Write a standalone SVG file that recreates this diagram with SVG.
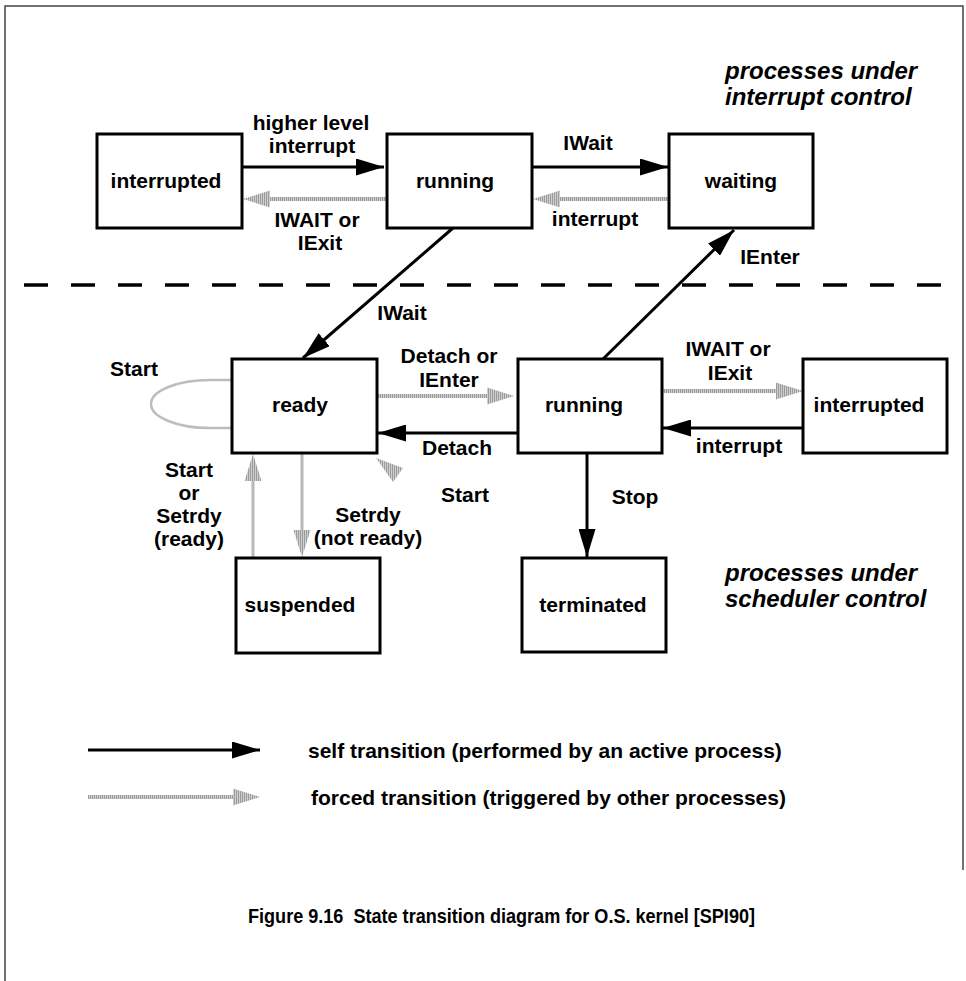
<svg xmlns="http://www.w3.org/2000/svg" width="966" height="981" viewBox="0 0 966 981">
<style>
text{font-family:"Liberation Sans",Arial,Helvetica,sans-serif;font-weight:bold;font-size:21px;fill:#000}
.c{text-anchor:middle}
.it{font-style:italic;font-size:24px}
.box{fill:#fff;stroke:#000;stroke-width:3}
.self{stroke:#000;stroke-width:3;fill:none}
.forced{stroke:url(#hatch);stroke-width:4;fill:none}
.fv{stroke:#b8b8b8;stroke-width:3;fill:none}
.head{fill:url(#hatch)}
</style>
<defs>
<pattern id="hatch" patternUnits="userSpaceOnUse" width="2" height="4">
<rect width="2" height="4" fill="#d0d0d0"/>
<rect width="1" height="4" fill="#9a9a9a"/>
</pattern>
<marker id="ah" markerUnits="userSpaceOnUse" markerWidth="28" markerHeight="17" refX="28" refY="8.5" orient="auto">
<path d="M0,0 L28,8.5 L0,17 z" fill="#000"/>
</marker>
</defs>
<rect width="966" height="981" fill="#fff"/>
<g id="frame" stroke="#444" stroke-width="1.5" fill="none">
<path d="M5,981 V6 H963 V870"/>
</g>
<line id="divider" x1="24" y1="285" x2="945" y2="285" stroke="#000" stroke-width="3.5" stroke-dasharray="24 23"/>
<g id="connectors">
<line class="self" x1="242" y1="167" x2="384" y2="167" marker-end="url(#ah)"/>
<line class="self" x1="532" y1="167" x2="668" y2="167" marker-end="url(#ah)"/>
<line class="self" x1="453" y1="228" x2="303" y2="358" marker-end="url(#ah)"/>
<line class="self" x1="603" y1="359" x2="734" y2="230" marker-end="url(#ah)"/>
<line class="self" x1="517" y1="433" x2="378" y2="433" marker-end="url(#ah)"/>
<line class="self" x1="803" y1="428" x2="663" y2="428" marker-end="url(#ah)"/>
<line class="self" x1="587" y1="453" x2="587" y2="557" marker-end="url(#ah)"/>
<line class="forced" x1="387" y1="199" x2="262" y2="199"/>
<polygon class="head" points="243,199 270,190.5 270,207.5"/>
<line class="forced" x1="669" y1="199" x2="552" y2="199"/>
<polygon class="head" points="533,199 560,190.5 560,207.5"/>
<line class="forced" x1="377" y1="396" x2="495" y2="396"/>
<polygon class="head" points="514,396 487,387.5 487,404.5"/>
<line class="forced" x1="662" y1="391" x2="784" y2="391"/>
<polygon class="head" points="803,391 776,382.5 776,399.5"/>
<line class="fv" x1="253" y1="558" x2="253" y2="475"/>
<polygon class="head" points="253,454 244.5,481 261.5,481"/>
<line class="fv" x1="302" y1="453" x2="302" y2="536"/>
<polygon class="head" points="302,557 293.5,530 310.5,530"/>
<polygon class="head" points="376,458 403,468 393,482"/>
<path d="M232,380 H210 A59,24 0 0 0 210,428 H232" fill="none" stroke="#bdbdbd" stroke-width="2.5"/>
</g>
<g id="edge-labels">
<text class="c" x="311" y="130">higher level</text>
<text class="c" x="312" y="153">interrupt</text>
<text class="c" x="317" y="227">IWAIT or</text>
<text class="c" x="320" y="250">IExit</text>
<text class="c" x="588" y="150">IWait</text>
<text class="c" x="595" y="226">interrupt</text>
<text class="c" x="402" y="320">IWait</text>
<text class="c" x="770" y="264">IEnter</text>
<text class="c" x="134" y="376">Start</text>
<text class="c" x="449" y="363">Detach or</text>
<text class="c" x="449" y="387">IEnter</text>
<text class="c" x="457" y="455">Detach</text>
<text class="c" x="728" y="356">IWAIT or</text>
<text class="c" x="730" y="380">IExit</text>
<text class="c" x="739" y="453">interrupt</text>
<text class="c" x="189" y="477">Start</text>
<text class="c" x="189" y="500">or</text>
<text class="c" x="189" y="523">Setrdy</text>
<text class="c" x="189" y="546">(ready)</text>
<text class="c" x="368" y="522">Setrdy</text>
<text class="c" x="368" y="545">(not ready)</text>
<text class="c" x="465" y="502">Start</text>
<text class="c" x="635" y="504">Stop</text>
</g>
<g id="interrupted-top"><rect class="box" x="97" y="134" width="145" height="94"/><text class="c" x="166" y="188">interrupted</text></g>
<g id="running-top"><rect class="box" x="387" y="134" width="145" height="94"/><text class="c" x="455" y="188">running</text></g>
<g id="waiting"><rect class="box" x="669" y="134" width="144" height="94"/><text class="c" x="741" y="188">waiting</text></g>
<g id="ready"><rect class="box" x="232" y="359" width="145" height="94"/><text class="c" x="300" y="412">ready</text></g>
<g id="running-low"><rect class="box" x="518" y="359" width="144" height="94"/><text class="c" x="584" y="412">running</text></g>
<g id="interrupted-right"><rect class="box" x="803" y="359" width="144" height="94"/><text class="c" x="869" y="412">interrupted</text></g>
<g id="suspended"><rect class="box" x="236" y="558" width="144" height="95"/><text class="c" x="300" y="612">suspended</text></g>
<g id="terminated"><rect class="box" x="522" y="558" width="144" height="94"/><text class="c" x="593" y="612">terminated</text></g>
<g id="region-labels">
<text class="it" x="725" y="79">processes under</text>
<text class="it" x="725" y="105">interrupt control</text>
<text class="it" x="725" y="581">processes under</text>
<text class="it" x="725" y="607">scheduler control</text>
</g>
<g id="legend">
<line class="self" x1="88" y1="750" x2="260" y2="750" marker-end="url(#ah)"/>
<text x="308" y="758">self transition (performed by an active process)</text>
<line class="forced" x1="88" y1="797" x2="240" y2="797"/>
<polygon class="head" points="260,797 233,788.5 233,805.5"/>
<text x="311" y="805">forced transition (triggered by other processes)</text>
</g>
<text id="caption" x="248" y="923" font-size="23" textLength="507" lengthAdjust="spacingAndGlyphs">Figure 9.16&#160; State transition diagram for O.S. kernel [SPI90]</text>
</svg>
